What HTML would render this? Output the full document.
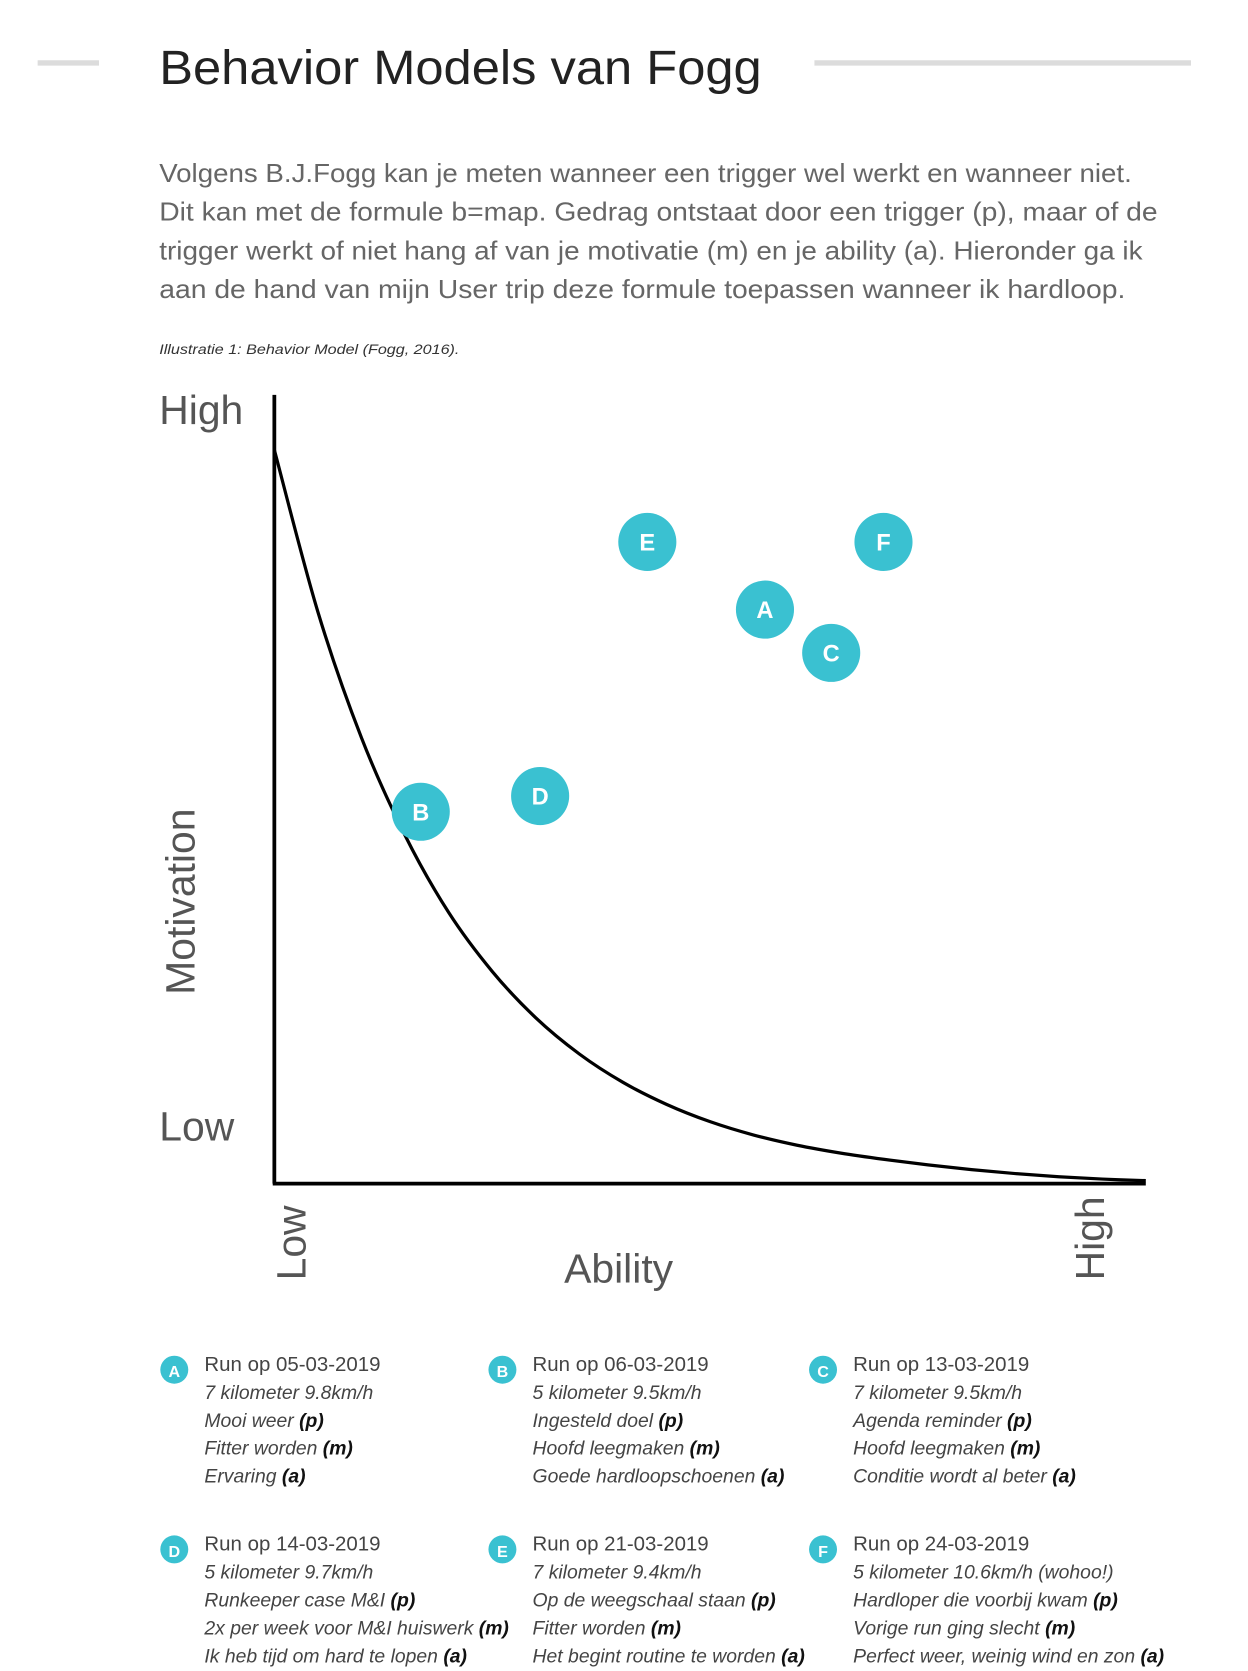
<!DOCTYPE html>
<html><head><meta charset="utf-8"><style>
html,body{margin:0;padding:0;background:#fff;}
svg{display:block;}
text{font-family:"Liberation Sans",sans-serif;}
</style></head><body>
<svg id="s" width="1248" height="1671" viewBox="0 0 1160 1553" preserveAspectRatio="none" xmlns="http://www.w3.org/2000/svg">
<rect x="35" y="56" width="57" height="5" fill="#dcdcdc"/>
<rect x="757" y="56" width="350" height="5" fill="#dcdcdc"/>
<text x="148" y="78" font-size="45" fill="#222" textLength="560" lengthAdjust="spacingAndGlyphs">Behavior Models van Fogg</text>
<g fill="#666" font-size="24">
<text x="148" y="169" textLength="904" lengthAdjust="spacingAndGlyphs">Volgens B.J.Fogg kan je meten wanneer een trigger wel werkt en wanneer niet.</text>
<text x="148" y="205" textLength="928" lengthAdjust="spacingAndGlyphs">Dit kan met de formule b=map. Gedrag ontstaat door een trigger (p), maar of de</text>
<text x="148" y="241" textLength="914" lengthAdjust="spacingAndGlyphs">trigger werkt of niet hang af van je motivatie (m) en je ability (a). Hieronder ga ik</text>
<text x="148" y="277" textLength="898" lengthAdjust="spacingAndGlyphs">aan de hand van mijn User trip deze formule toepassen wanneer ik hardloop.</text>
</g>
<text x="148" y="329" font-size="13" font-style="italic" fill="#333" textLength="279" lengthAdjust="spacingAndGlyphs">Illustratie 1: Behavior Model (Fogg, 2016).</text>

<g fill="#555" font-size="38">
<text x="148" y="394">High</text>
<text x="148" y="1060">Low</text>
<text transform="translate(181,838) rotate(-90)" text-anchor="middle">Motivation</text>
<text transform="translate(284,1190) rotate(-90)">Low</text>
<text transform="translate(1026,1190) rotate(-90)">High</text>
<text x="575" y="1192" text-anchor="middle">Ability</text>
</g>
<g id="chart"></g>

<g id="legend"></g>
</svg>
<script>
const labels = ["A","B","C","D","E","F"];
const ability = [56.3, 16.8, 63.9, 30.5, 42.8, 69.9];
const motivation = [72.7, 47.0, 67.2, 49.0, 81.3, 81.3];
const curveAbility = [0, 5, 10, 15, 20, 25, 30, 35, 40, 45, 50, 55, 60, 65, 70, 75, 80, 85, 90, 95, 100];
const curveMotivation = [93, 72.4, 56.4, 44, 34.2, 26.7, 20.8, 16.2, 12.6, 9.8, 7.6, 5.9, 4.6, 3.6, 2.8, 2.1, 1.5, 1.0, 0.6, 0.3, 0.1];

const NS = "http://www.w3.org/2000/svg";
const X0 = 255, X1 = 1065, Y0 = 1098, Y1 = 367;
const xs = v => X0 + (X1 - X0) * v / 100;
const ys = v => Y0 - (Y0 - Y1) * v / 100;
const chart = document.getElementById('chart');
function mk(tag, attrs, parent){const e=document.createElementNS(NS,tag);for(const k in attrs)e.setAttribute(k,attrs[k]);parent.appendChild(e);return e;}

const yAxis = mk('line',{x1:X0,y1:Y1,x2:X0,y2:Y0+2,stroke:'#000','stroke-width':3.5},chart);


const xAxis = mk('line',{x1:X0-1.5,y1:Y0+2,x2:X1,y2:Y0+2,stroke:'#000','stroke-width':3.5},chart);



const pts = curveAbility.map((a,i)=>[xs(a), ys(curveMotivation[i])]);
let d = `M${pts[0][0]},${pts[0][1]}`;
for(let i=0;i<pts.length-1;i++){
  const p0=pts[Math.max(0,i-1)],p1=pts[i],p2=pts[i+1],p3=pts[Math.min(pts.length-1,i+2)];
  const c1=[p1[0]+(p2[0]-p0[0])/6,p1[1]+(p2[1]-p0[1])/6];
  const c2=[p2[0]-(p3[0]-p1[0])/6,p2[1]-(p3[1]-p1[1])/6];
  d+=` C${c1[0]},${c1[1]} ${c2[0]},${c2[1]} ${p2[0]},${p2[1]}`;
}
const curve = mk('path',{d:d,fill:'none',stroke:'#000','stroke-width':3},chart);



labels.forEach((l,i)=>{
  const g = mk('g',{},chart);
  
  
  mk('circle',{cx:xs(ability[i]),cy:ys(motivation[i]),r:27,fill:'#3ac1d1'},g);
  const t = mk('text',{x:xs(ability[i]),y:ys(motivation[i])+8,'text-anchor':'middle','font-size':22,'font-weight':'bold',fill:'#fff'},g);
  t.textContent = l;
});

const entries = [
 ["Run op 05-03-2019","7 kilometer 9.8km/h",["Mooi weer","(p)"],["Fitter worden","(m)"],["Ervaring","(a)"]],
 ["Run op 06-03-2019","5 kilometer 9.5km/h",["Ingesteld doel","(p)"],["Hoofd leegmaken","(m)"],["Goede hardloopschoenen","(a)"]],
 ["Run op 13-03-2019","7 kilometer 9.5km/h",["Agenda reminder","(p)"],["Hoofd leegmaken","(m)"],["Conditie wordt al beter","(a)"]],
 ["Run op 14-03-2019","5 kilometer 9.7km/h",["Runkeeper case M&I","(p)"],["2x per week voor M&I huiswerk","(m)"],["Ik heb tijd om hard te lopen","(a)"]],
 ["Run op 21-03-2019","7 kilometer 9.4km/h",["Op de weegschaal staan","(p)"],["Fitter worden","(m)"],["Het begint routine te worden","(a)"]],
 ["Run op 24-03-2019","5 kilometer 10.6km/h (wohoo!)",["Hardloper die voorbij kwam","(p)"],["Vorige run ging slecht","(m)"],["Perfect weer, weinig wind en zon","(a)"]]
];
const legend = document.getElementById('legend');
const colX = [162, 467, 765], rowY = [1274, 1441];
entries.forEach((e,i)=>{
  const cx = colX[i%3], by = rowY[Math.floor(i/3)];
  const g = mk('g',{},legend);
  
  
  mk('circle',{cx:cx,cy:by-1,r:13,fill:'#3ac1d1'},g);
  const b = mk('text',{x:cx,y:by+6,'text-anchor':'middle','font-size':15,'font-weight':'bold',fill:'#fff'},g);
  b.textContent = labels[i];
  const tx = cx + 28;
  const t0 = mk('text',{x:tx,y:by,'font-size':19,fill:'#444'},g); t0.textContent = e[0];
  const t1 = mk('text',{x:tx,y:by+26,'font-size':18,'font-style':'italic',fill:'#444'},g); t1.textContent = e[1];
  for(let k=2;k<5;k++){
    const t = mk('text',{x:tx,y:by+26*k,'font-size':18,'font-style':'italic',fill:'#444'},g);
    const s1 = mk('tspan',{},t); s1.textContent = e[k][0] + ' ';
    const s2 = mk('tspan',{'font-weight':'bold',fill:'#111'},t); s2.textContent = e[k][1];
  }
});
</script>
</body></html>
